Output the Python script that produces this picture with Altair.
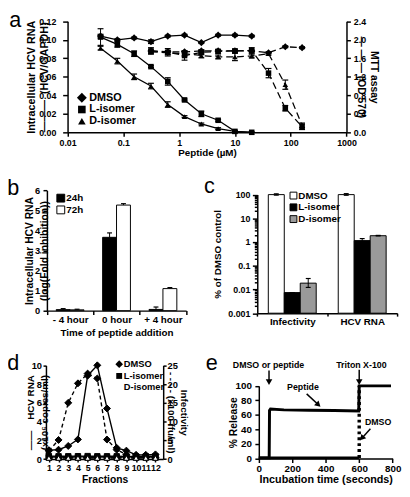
import math
import altair as alt
import pandas as pd

# ---------------------------------------------------------------- data
SERIES = ["DMSO", "L-isomer", "D-isomer"]

# (a) dose response: intracellular HCV RNA (solid) and MTT (dashed)
conc_rna = [0.039, 0.078, 0.156, 0.3125, 0.625, 1.25, 2.5, 5, 10, 20]
rna_dmso = [0.104, 0.100, 0.102, 0.098, 0.104, 0.105, 0.097, 0.105, 0.105, 0.104]
rna_dmso_err = [0.002, 0.001, 0.001, 0.002, 0.001, 0.001, 0.001, 0.001, 0.001, 0.001]
rna_l = [0.103, 0.095, 0.085, 0.071, 0.055, 0.035, 0.020, 0.013, 0.001, 0.000]
rna_l_err = [0.009, 0.003, 0.003, 0.001, 0.004, 0.001, 0.003, 0.001, 0.001, 0.000]
rna_d = [0.091, 0.077, 0.060, 0.050, 0.030, 0.017, 0.009, 0.004, 0.001, 0.000]
rna_d_err = [0.002, 0.003, 0.003, 0.003, 0.003, 0.001, 0.001, 0.001, 0.000, 0.000]

conc_mtt = [0.3125, 0.625, 1.25, 2.5, 5, 10, 20, 40, 80, 160]
mtt_dmso = [1.76, 1.74, 1.74, 1.76, 1.76, 1.76, 1.76, 1.72, 1.85, 1.83]
mtt_dmso_err = [0.02, 0.02, 0.02, 0.02, 0.02, 0.02, 0.02, 0.02, 0.02, 0.02]
mtt_l = [1.76, 1.73, 1.66, 1.73, 1.75, 1.76, 1.77, 1.28, 0.52, 0.12]
mtt_l_err = [0.07, 0.08, 0.10, 0.05, 0.04, 0.04, 0.06, 0.10, 0.06, 0.06]
mtt_d = [1.74, 1.72, 1.70, 1.66, 1.63, 1.63, 1.65, 1.70, 1.03, 0.15]
mtt_d_err = [0.03, 0.04, 0.05, 0.05, 0.04, 0.08, 0.04, 0.03, 0.10, 0.05]

# (b) time of addition
b_groups = ["- 4 hour", "0 hour", "+ 4 hour"]
b_times = ["24h", "72h"]
b_24 = [0.05, 3.66, 0.06]
b_24_err = [0.05, 0.22, 0.12]
b_72 = [0.04, 5.27, 1.10]
b_72_err = [0.03, 0.07, 0.05]

# (c) % of DMSO control
c_groups = ["Infectivity", "HCV RNA"]
c_dmso = [100, 100]
c_dmso_err = [8, 10]
c_l = [0.0074, 1.15]
c_l_err = [0.0, 0.25]
c_d = [0.0185, 1.85]
c_d_err = [0.0105, 0.06]

# (d) gradient fractions
fractions = [1, 2, 3, 4, 5, 6, 7, 8, 9, 10, 11, 12]
d_rna_dmso = [0.95, 1.0, 1.4, 2.1, 8.9, 10.0, 5.4, 1.2, 0.9, 0.45, 0.45, 0.5]
d_rna_l = [0.32, 0.30, 0.30, 0.31, 0.32, 0.30, 0.30, 0.30, 0.28, 0.28, 0.30, 0.30]
d_rna_d = [0.22, 0.24, 0.22, 0.23, 0.25, 0.22, 0.24, 0.22, 0.22, 0.23, 0.22, 0.22]
d_inf_dmso = [2.2, 5.1, 15.0, 20.2, 22.8, 21.5, 5.2, 2.5, 1.2, 0.6, 0.4, 0.4]
d_inf_l = [0.4, 0.4, 0.4, 0.4, 0.4, 0.4, 0.4, 0.4, 0.4, 0.4, 0.4, 0.4]
d_inf_d = [0.3, 0.3, 0.3, 0.3, 0.3, 0.3, 0.3, 0.3, 0.3, 0.3, 0.3, 0.3]

# (e) release kinetics
e_pep_t = [0, 62, 64, 70, 150, 300, 450, 597, 600, 700, 790]
e_pep_v = [1, 1, 66, 68, 67, 66.5, 66, 65.5, 100, 100, 100]
e_dmso_t = [0, 200, 400, 598]
e_dmso_v = [1, 1, 1, 1]
e_jump_t = [600, 600]
e_jump_v = [1, 100]
ann_text = ["DMSO or peptide", "Triton X-100", "Peptide", "DMSO"]
ann_t = [58, 613, 264, 713]
ann_v = [129, 129, 98, 50]
arr_t1 = [61, 600, 286, 667]
arr_v1 = [121, 122, 89, 41]
arr_t2 = [61, 600, 356, 616]
arr_v2 = [105, 105, 74, 28]

# ---------------------------------------------------------------- layout
W, H = 402, 481
SX, SY = 400 / 410, 481 / 497
def px(v): return (v - 1.0) * SX
def py(v): return v * SY

FONT = "Liberation Sans"
DIAMOND = "M0,-1.3L1.3,0L0,1.3L-1.3,0Z"


def axis(orient, offset, **kw):
    d = dict(orient=orient, offset=offset, grid=False, labelFont=FONT, titleFont=FONT,
             labelFontWeight="bold", titleFontWeight="bold", labelColor="black",
             titleColor="black", domainColor="black", tickColor="black",
             domainWidth=1.5, tickWidth=1.5, labelOverlap=False, labelFlush=False)
    d.update(kw)
    return alt.Axis(**d)


def legend(cx, cy, sym, font, label_start, **kw):
    xs = math.ceil(math.sqrt(sym)) + kw.get("symbolStrokeWidth", 0)
    h = max(xs, font * 1.25)
    d = dict(orient="none", title=None, padding=0, legendX=px(cx) - xs / 2,
             legendY=py(cy) - h / 2, symbolSize=sym, labelFont=FONT,
             labelFontWeight="bold", labelFontSize=font, labelColor="black",
             rowPadding=0,
             labelOffset=max(0, px(label_start) - px(cx) - xs / 2))
    d.update(kw)
    return alt.Legend(**d)


def lin(domain, r0, r1):
    return alt.Scale(domain=domain, range=[r0, r1], nice=False)


def long_df(xname, xs, named):
    rows = []
    for s, vals, errs in named:
        for x, v, e in zip(xs, vals, errs):
            rows.append({xname: x, "series": s, "value": v, "lo": v - e, "hi": v + e})
    return pd.DataFrame(rows)


def err_layers(df, xe, ye, cap, both=True, extra=None):
    extra = extra or {}
    out = [alt.Chart(df).mark_rule(color="black", strokeWidth=1, opacity=1).encode(
        x=xe, y=ye("lo" if both else "value"), y2=alt.Y2("hi"), **extra)]
    ends = ["hi", "lo"] if both else ["hi"]
    for f in ends:
        out.append(alt.Chart(df).mark_tick(orient="horizontal", size=cap, thickness=1.2,
                                           color="black", opacity=1).encode(
            x=xe, y=ye(f), **extra))
    return out


# ---------------------------------------------------------------- panel a
a_x = alt.X("conc:Q", scale=alt.Scale(type="log", domain=[0.01, 1000],
                                      range=[px(63.3), px(355)], nice=False),
            axis=axis("bottom", py(126) - H, values=[0.01, 0.1, 1, 10, 100, 1000],
                      format="~g", labelFontSize=9, tickSize=4, labelPadding=2.5,
                      title="Peptide (µM)", titleFontSize=10, titleY=(142 - 126) * SY))


def a_yl(f):
    return alt.Y(f, type="quantitative", scale=lin([0, 0.12], py(126), py(9)),
                 axis=axis("left", -px(63.3), values=[0, 0.02, 0.04, 0.06, 0.08, 0.10, 0.12],
                           format=".2f", labelFontSize=9, tickSize=5, labelPadding=7,
                           title=["Intracellular HCV RNA", "\u2014\u2014\u2014\u00a0\u00a0(HCV/GAPDH)"],
                           titleFontSize=11, titleLineHeight=13.5, titleX=(31 - 63.3) * SX))


def a_yr(f):
    return alt.Y(f, type="quantitative", scale=lin([0, 2.4], py(126), py(9)),
                 axis=axis("right", px(355) - W, values=[0, 0.4, 0.8, 1.2, 1.6, 2.0, 2.4],
                           format=".1f", labelFontSize=9, tickSize=4, labelPadding=3,
                           title=["MTT assay", "\u2014 \u2014 \u2014\u00a0(OD 570)"],
                           titleFontSize=10.5, titleLineHeight=13.5, titleX=(378 - 355) * SX))


leg_a = legend(76.7, 91, 60, 11, 83, symbolFillColor="black",
               symbolStrokeColor="black", symbolStrokeWidth=0)
shape_a = alt.Shape("series:N", scale=alt.Scale(domain=SERIES, range=[DIAMOND, "square", "triangle-up"]),
                    legend=leg_a)

df_rna = long_df("conc", conc_rna, [("DMSO", rna_dmso, rna_dmso_err), ("L-isomer", rna_l, rna_l_err),
                                    ("D-isomer", rna_d, rna_d_err)])
df_mtt = long_df("conc", conc_mtt, [("DMSO", mtt_dmso, mtt_dmso_err), ("L-isomer", mtt_l, mtt_l_err),
                                    ("D-isomer", mtt_d, mtt_d_err)])

rna_layer = alt.layer(
    *err_layers(df_rna, a_x, a_yl, 6),
    alt.Chart(df_rna).mark_line(color="black", strokeWidth=1.3).encode(
        x=a_x, y=a_yl("value"), detail="series:N"),
    alt.Chart(df_rna).mark_point(filled=True, color="black", opacity=1, size=32).encode(
        x=a_x, y=a_yl("value"), shape=shape_a),
)
mtt_layer = alt.layer(
    *err_layers(df_mtt, a_x, a_yr, 6),
    alt.Chart(df_mtt).mark_line(color="black", strokeWidth=1.3, strokeDash=[7, 4]).encode(
        x=a_x, y=a_yr("value"), detail="series:N"),
    alt.Chart(df_mtt).mark_point(filled=True, color="black", opacity=1, size=32).encode(
        x=a_x, y=a_yr("value"), shape=shape_a),
)
panel_a = alt.layer(rna_layer, mtt_layer).resolve_scale(y="independent")

# ---------------------------------------------------------------- panel b
rows = []
for g, v24, e24, v72, e72 in zip(b_groups, b_24, b_24_err, b_72, b_72_err):
    rows.append({"group": g, "time": "24h", "value": v24, "hi": v24 + e24})
    rows.append({"group": g, "time": "72h", "value": v72, "hi": v72 + e72})
df_b = pd.DataFrame(rows)

b_x = alt.X("group:N", sort=b_groups,
            scale=alt.Scale(domain=b_groups, range=[px(41.7), px(187.3)], paddingInner=0, paddingOuter=0),
            axis=axis("bottom", py(314) - H, tickBand="extent", labelAngle=0, labelFontSize=10,
                      tickSize=4, labelPadding=0.5, title="Time of peptide addition",
                      titleFontSize=10, titleY=(332 - 314) * SY))
b_xo = alt.XOffset("time:N", sort=b_times,
                   scale=alt.Scale(domain=b_times, paddingInner=0, paddingOuter=0.67))


def b_y(f):
    return alt.Y(f, type="quantitative", scale=lin([0, 6], py(314), py(187.3)),
                 axis=axis("left", -px(41.7), values=[0, 1, 2, 3, 4, 5, 6], format="d",
                           labelFontSize=9.5, tickSize=4, labelPadding=3.5,
                           title=["Intracellular HCV RNA", "(log(Fold inhibition))"],
                           titleFontSize=10.5, titleLineHeight=14.5, titleX=(29 - 41.7) * SX))


leg_b = legend(55.7, 196.7, 64, 10, 61, symbolType="square",
               symbolStrokeColor="black", symbolStrokeWidth=1)
panel_b = alt.layer(
    alt.Chart(df_b).mark_bar(stroke="black", strokeWidth=1, opacity=1).encode(
        x=b_x, xOffset=b_xo, y=b_y("value"),
        fill=alt.Fill("time:N", scale=alt.Scale(domain=b_times, range=["black", "white"]), legend=leg_b)),
    *err_layers(df_b, b_x, b_y, 5, both=False, extra={"xOffset": b_xo}),
)

# ---------------------------------------------------------------- panel c
rows = []
for i, g in enumerate(c_groups):
    for s, vals, errs in [("DMSO", c_dmso, c_dmso_err), ("L-isomer", c_l, c_l_err), ("D-isomer", c_d, c_d_err)]:
        rows.append({"group": g, "series": s, "value": vals[i],
                     "lo": vals[i] - errs[i] * 0.6 if vals[i] - errs[i] * 0.6 > 0 else vals[i],
                     "hi": vals[i] + errs[i]})
df_c = pd.DataFrame(rows)

c_ticks = [m * 10 ** e for e in range(-3, 2) for m in range(1, 10)] + [100]
IS_MAJOR = "abs(log(datum.value)/LN10 - round(log(datum.value)/LN10)) < 0.001"
c_x = alt.X("group:N", sort=c_groups,
            scale=alt.Scale(domain=c_groups, range=[px(261.7), px(408)], paddingInner=0, paddingOuter=0),
            axis=axis("bottom", py(316.7) - H, tickBand="extent", labelAngle=0, labelFontSize=10,
                      tickSize=3, labelPadding=1, title=None))
c_xo = alt.XOffset("series:N", sort=SERIES,
                   scale=alt.Scale(domain=SERIES, paddingInner=0, paddingOuter=0.69))


def c_y(f):
    return alt.Y(f, type="quantitative",
                 scale=alt.Scale(type="log", domain=[0.001, 100], range=[py(316.7), py(191.7)], nice=False),
                 axis=axis("left", -px(261.7), values=c_ticks,
                           labelExpr=IS_MAJOR + " ? format(datum.value, '~g') : ''",
                           tickSize={"condition": {"test": IS_MAJOR, "value": 5}, "value": 3},
                           labelFontSize=9, labelPadding=2.5, title="% of DMSO control",
                           titleFontSize=10, titleX=(225.5 - 261.7) * SX))


leg_c = legend(298.5, 194, 49, 10, 302.5, symbolType="square",
               symbolStrokeColor="black", symbolStrokeWidth=1)
panel_c = alt.layer(
    alt.Chart(df_c).mark_bar(stroke="black", strokeWidth=1, opacity=1).encode(
        x=c_x, xOffset=c_xo, y=c_y("value"), y2=alt.Y2Datum(0.001),
        fill=alt.Fill("series:N", scale=alt.Scale(domain=SERIES, range=["white", "black", "#9a9a9a"]),
                      legend=leg_c)),
    *err_layers(df_c, c_x, c_y, 5, both=True, extra={"xOffset": c_xo}),
)

# ---------------------------------------------------------------- panel d
rows_r, rows_i = [], []
for s, vr, vi in [("DMSO", d_rna_dmso, d_inf_dmso), ("L-isomer", d_rna_l, d_inf_l), ("D-isomer", d_rna_d, d_inf_d)]:
    for f, a, b in zip(fractions, vr, vi):
        rows_r.append({"frac": f, "series": s, "value": a})
        rows_i.append({"frac": f, "series": s, "value": b})
df_dr, df_di = pd.DataFrame(rows_r), pd.DataFrame(rows_i)

d_x = alt.X("frac:Q", scale=alt.Scale(domain=[0.7, 12.8], range=[px(40.7), px(163.3)], nice=False, zero=False),
            axis=axis("bottom", py(470.5) - H, values=fractions, format="d", labelFontSize=9,
                      tickSize=3, labelPadding=1.5, title="Fractions", titleFontSize=10.5,
                      titleY=(487 - 470.5) * SY))


def d_yl(f):
    return alt.Y(f, type="quantitative", scale=lin([0, 10], py(470.5), py(371.7)),
                 axis=axis("left", -px(40.7), values=[0, 2, 4, 6, 8, 10], format="d",
                           labelFontSize=9.5, tickSize=3, labelPadding=1.5,
                           title=["\u2014\u2014\u00a0\u00a0\u00a0\u00a0HCV RNA", "(x10\u2076 copies/ml)"],
                           titleFontSize=10, titleLineHeight=14.5, titleX=(29.5 - 40.7) * SX))


def d_yr(f):
    return alt.Y(f, type="quantitative", scale=lin([0, 25], py(470.5), py(371.7)),
                 axis=axis("right", px(163.3) - W, values=[0, 5, 10, 15, 20, 25], format="d",
                           labelFontSize=9.5, tickSize=3, labelPadding=1,
                           title=["Infectivity", "- - - -\u00a0(x100 ffu/ml)"],
                           titleFontSize=10, titleLineHeight=12.5, titleX=(179 - 163.3) * SX))


leg_d = legend(116, 371.7, 36, 9.5, 119.5, symbolStrokeColor="black", symbolStrokeWidth=1)
shape_d = alt.Shape("series:N", scale=alt.Scale(domain=SERIES, range=[DIAMOND, "square", "triangle-up"]),
                    legend=leg_d)
fill_d = alt.Fill("series:N", scale=alt.Scale(domain=SERIES, range=["black", "black", "white"]), legend=leg_d)

d_rna_layer = alt.layer(
    alt.Chart(df_dr).mark_line(color="black", strokeWidth=1.4).encode(x=d_x, y=d_yl("value"), detail="series:N"),
    alt.Chart(df_dr).mark_point(filled=True, stroke="black", strokeWidth=1, size=30, opacity=1).encode(
        x=d_x, y=d_yl("value"), shape=shape_d, fill=fill_d),
)
d_inf_layer = alt.layer(
    alt.Chart(df_di).mark_line(color="black", strokeWidth=1.4, strokeDash=[4, 3]).encode(
        x=d_x, y=d_yr("value"), detail="series:N"),
    alt.Chart(df_di).mark_point(filled=True, stroke="black", strokeWidth=1, size=30, opacity=1).encode(
        x=d_x, y=d_yr("value"), shape=shape_d, fill=fill_d),
)
panel_d = alt.layer(d_rna_layer, d_inf_layer).resolve_scale(y="independent")

# ---------------------------------------------------------------- panel e
df_e = pd.concat([
    pd.DataFrame({"t": e_pep_t, "v": e_pep_v, "curve": "Peptide"}),
    pd.DataFrame({"t": e_dmso_t, "v": e_dmso_v, "curve": "DMSO"}),
])
df_jump = pd.DataFrame({"t": e_jump_t, "v": e_jump_v})
df_ann = pd.DataFrame({"text": ann_text, "t": ann_t, "v": ann_v})

E_XR = [px(263.3), px(403.3)]
E_YR = [py(470), py(393.3)]
e_sx = (E_XR[1] - E_XR[0]) / 800
e_sy = (E_YR[0] - E_YR[1]) / 100
df_arr = pd.DataFrame({"t1": arr_t1, "v1": arr_v1, "t2": arr_t2, "v2": arr_v2})
df_arr["ang"] = [
    math.degrees(math.atan2(-(b - a) * e_sx, -(d - c) * e_sy)) % 360
    for a, b, c, d in zip(arr_t1, arr_t2, arr_v1, arr_v2)
]


def e_x(f):
    return alt.X(f, type="quantitative", scale=lin([0, 800], *E_XR),
                 axis=axis("bottom", py(470) - H, values=[0, 200, 400, 600, 800], format="d",
                           labelFontSize=10, tickSize=4, labelPadding=1,
                           title="Incubation time (seconds)", titleFontSize=11,
                           titleY=(485.5 - 470) * SY))


def e_y(f):
    return alt.Y(f, type="quantitative", scale=lin([0, 100], *E_YR),
                 axis=axis("left", -px(263.3), values=[0, 20, 40, 60, 80, 100], format="d",
                           labelFontSize=10, tickSize=4, labelPadding=3.5, title="% Release",
                           titleFontSize=10.5, titleX=(242 - 263.3) * SX))


panel_e = alt.layer(
    alt.Chart(df_e).mark_line(color="black", strokeWidth=3, opacity=1).encode(
        x=e_x("t"), y=e_y("v"), detail="curve:N"),
    alt.Chart(df_jump).mark_line(color="black", strokeWidth=3.5, strokeDash=[3, 3]).encode(
        x=e_x("t"), y=e_y("v")),
    alt.Chart(df_ann).mark_text(font=FONT, fontWeight="bold", fontSize=9, color="black",
                                align="center", baseline="middle").encode(
        x=e_x("t"), y=e_y("v"), text="text:N"),
    alt.Chart(df_arr).mark_rule(color="black", strokeWidth=1.5).encode(
        x=e_x("t1"), x2="t2", y=e_y("v1"), y2="v2"),
    alt.Chart(df_arr).mark_point(shape="triangle-down", filled=True, color="black", size=45, opacity=1).encode(
        x=e_x("t2"), y=e_y("v2"), angle=alt.Angle("ang:Q", scale=None)),
)

# ---------------------------------------------------------------- panel letters
letters = []
for letter, cx, base in [("a", 8.5, 15), ("b", 6.5, 191.7), ("c", 211.7, 190),
                         ("d", 6.5, 376.7), ("e", 214, 376.7)]:
    letters.append(
        alt.Chart(pd.DataFrame({"letter": [letter]})).mark_text(
            font=FONT, fontSize=22, color="black", align="center", baseline="alphabetic").encode(
            text="letter:N", x=alt.value(px(cx)), y=alt.value(py(base))))

chart = alt.layer(panel_a, panel_b, panel_c, panel_d, panel_e, *letters).resolve_scale(
    x="independent", y="independent", shape="independent", fill="independent", xOffset="independent"
).properties(
    width=W, height=H, autosize=alt.AutoSizeParams(type="none"), padding=0
).configure(font=FONT).configure_view(stroke=None)

chart.save("out.html", embed_options={"renderer": "svg", "actions": False})
